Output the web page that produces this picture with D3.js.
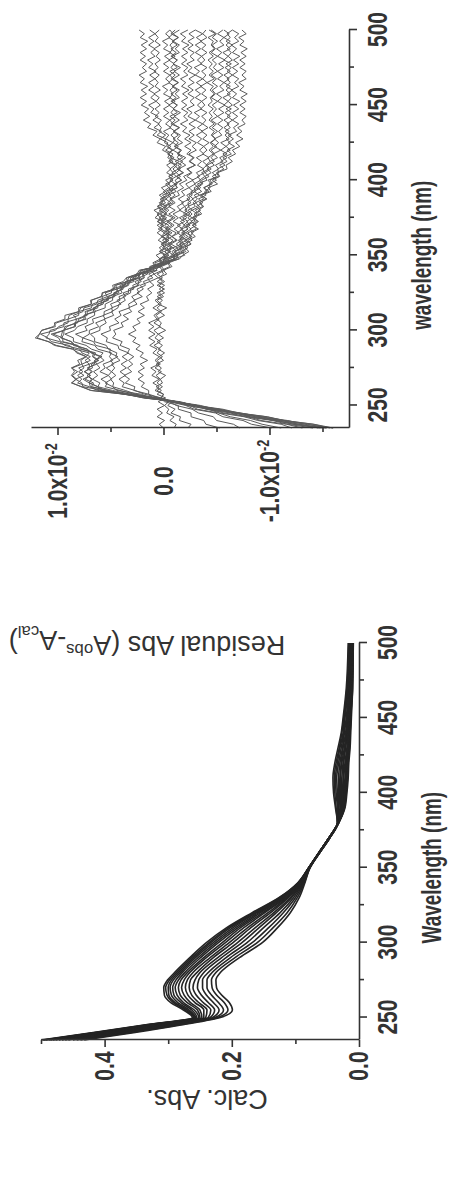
<!DOCTYPE html>
<html>
<head>
<meta charset="utf-8">
<script src="https://cdn.jsdelivr.net/npm/d3@7"></script>
<style>
  html, body { margin: 0; padding: 0; background: #fff; }
  svg { display: block; }
</style>
</head>
<body>
<svg id="fig" width="449" height="1202"></svg>
<script>
// ---------- calculated absorbance spectra (left panel of the figure) ----------
const calcWavelengths = [235,240,245,250,255,260,265,270,275,280,290,300,310,320,330,340,350,360,370,380,390,400,410,420,430,440,450,470,500];
const calc01 = [.500,.418,.338,.262,.276,.296,.306,.307,.301,.290,.266,.240,.208,.168,.126,.096,.079,.063,.047,.032,.022,.019,.017,.016,.014,.013,.012,.010,.009];
const calc02 = [.497,.415,.336,.260,.273,.292,.302,.304,.298,.287,.263,.236,.205,.166,.125,.096,.079,.063,.047,.032,.023,.020,.018,.017,.015,.014,.013,.010,.009];
const calc03 = [.495,.413,.333,.258,.270,.289,.299,.300,.295,.284,.260,.233,.202,.163,.123,.095,.079,.063,.047,.032,.023,.021,.019,.018,.016,.014,.013,.011,.010];
const calc04 = [.492,.410,.331,.257,.267,.285,.295,.297,.292,.281,.257,.229,.198,.161,.122,.095,.079,.063,.047,.032,.024,.022,.020,.019,.016,.015,.014,.011,.010];
const calc05 = [.488,.407,.328,.255,.263,.280,.291,.293,.288,.278,.253,.225,.194,.158,.121,.094,.079,.063,.047,.032,.025,.023,.021,.020,.017,.016,.014,.012,.010];
const calc06 = [.485,.404,.325,.252,.259,.276,.286,.289,.284,.274,.249,.221,.190,.155,.119,.094,.079,.063,.047,.032,.025,.024,.022,.021,.018,.016,.015,.012,.011];
const calc07 = [.481,.400,.322,.250,.254,.270,.281,.284,.280,.270,.244,.215,.186,.151,.117,.093,.078,.063,.047,.033,.026,.025,.024,.022,.019,.017,.016,.013,.011];
const calc08 = [.477,.396,.318,.247,.250,.265,.275,.279,.275,.266,.240,.210,.181,.148,.115,.092,.078,.063,.047,.033,.027,.026,.025,.024,.021,.018,.016,.013,.012];
const calc09 = [.472,.391,.314,.244,.244,.258,.269,.273,.270,.261,.234,.204,.175,.143,.113,.092,.078,.063,.047,.033,.028,.028,.027,.025,.022,.019,.017,.014,.012];
const calc10 = [.467,.386,.310,.241,.239,.252,.263,.267,.265,.255,.229,.198,.170,.139,.111,.091,.078,.063,.047,.033,.029,.029,.029,.027,.023,.020,.018,.015,.013];
const calc11 = [.462,.381,.306,.237,.233,.245,.256,.261,.258,.250,.222,.191,.163,.134,.108,.090,.078,.062,.046,.033,.030,.031,.030,.028,.025,.021,.019,.016,.013];
const calc12 = [.457,.376,.301,.234,.227,.237,.248,.254,.252,.244,.216,.184,.157,.130,.106,.089,.078,.062,.046,.033,.032,.032,.032,.030,.026,.023,.020,.016,.014];
const calc13 = [.450,.370,.296,.230,.220,.229,.240,.246,.246,.237,.209,.176,.150,.124,.103,.088,.078,.062,.046,.033,.033,.034,.035,.032,.028,.024,.022,.017,.015];
const calc14 = [.444,.364,.290,.226,.213,.221,.232,.239,.239,.231,.202,.168,.142,.119,.100,.087,.077,.062,.046,.034,.034,.036,.037,.034,.030,.025,.023,.018,.016];
const calc15 = [.438,.358,.285,.222,.206,.212,.224,.231,.232,.225,.195,.160,.135,.113,.097,.086,.077,.062,.046,.034,.036,.038,.039,.036,.031,.027,.024,.019,.016];
const calc16 = [.432,.352,.280,.218,.199,.204,.216,.224,.225,.218,.188,.152,.128,.108,.094,.085,.077,.062,.046,.034,.037,.040,.041,.038,.033,.028,.025,.020,.017];
const calcSpectra = [calc01,calc02,calc03,calc04,calc05,calc06,calc07,calc08,calc09,calc10,calc11,calc12,calc13,calc14,calc15,calc16];

// ---------- residuals A(obs) - A(cal), in units of 1e-3, sampled every 2.5 nm from 235 to 500 nm ----------
const residualStart = 235, residualStep = 2.5;
const resA = [-15.7,-14.1,-11.3,-9.7,-6.9,-5.2,-2.8,-1.6,1.5,3.7,6.9,7.7, 8.7,8.2,8.6,8.1,8.7,7.9,8.1,7.3,8.0,8.6,10.3,10.8, 12.1,11.7,11.5,10.2,10.3,9.3,9.3,8.0,7.8,6.8,6.9,5.8, 5.8,4.6,4.6,3.4,3.5,2.5,2.3,0.5,-0.1,-1.2,-1.2,-1.9, -1.6,-2.3,-2.0,-2.7,-2.1,-2.6,-2.2,-3.0,-2.7,-3.2,-2.7,-3.4, -3.0,-3.8,-3.4,-4.3,-3.8,-4.5,-4.2,-5.2,-5.0,-5.7,-5.3,-6.0, -5.6,-6.4,-6.0,-6.7,-6.1,-6.6,-6.1,-6.9,-6.6,-7.1,-6.5,-7.0, -6.5,-7.1,-6.6,-7.2,-6.5,-6.9,-6.4,-7.1,-6.7,-7.1,-6.5,-7.0, -6.5,-7.1,-6.6,-7.2,-6.5,-6.9,-6.4,-7.1,-6.7,-7.1,-6.5];
const resB = [-15.3,-12.7,-11.2,-8.7,-7.1,-4.6,-3.2,-1.1,0.9,3.8,5.7,7.6, 7.7,8.3,7.5,8.0,7.5,7.7,6.9,7.3,7.0,8.4,8.9,10.6, 10.9,11.6,10.2,9.9,9.0,9.0,8.0,8.0,6.8,6.7,5.7,5.8, 4.9,4.9,3.7,3.5,2.6,2.6,1.4,1.2,0.0,0.0,-1.0,-0.4, -0.9,-0.4,-1.2,-0.8,-1.2,-0.5,-1.0,-0.5,-1.1,-0.5,-1.1,-0.5, -1.1,-0.7,-1.5,-1.3,-1.9,-1.5,-2.2,-1.9,-2.6,-2.3,-3.0,-2.4, -2.8,-2.4,-3.1,-2.7,-3.1,-2.4,-2.9,-2.4,-3.0,-2.4,-3.0,-2.3, -2.7,-2.2,-2.9,-2.5,-2.9,-2.3,-2.8,-2.3,-2.9,-2.4,-3.0,-2.3, -2.7,-2.2,-2.9,-2.5,-2.9,-2.3,-2.8,-2.3,-2.9,-2.4,-3.0];
const resC = [-16.0,-14.2,-11.4,-9.8,-7.1,-5.6,-3.0,-1.2,1.9,3.5,6.2,7.0, 8.1,7.7,8.1,7.6,8.0,7.0,7.4,6.9,7.7,7.9,9.3,9.8, 11.1,10.8,10.7,9.4,9.4,8.2,8.5,7.6,7.5,6.3,6.2,5.3, 5.5,4.4,4.5,3.4,3.3,2.2,2.2,0.6,-0.1,-1.5,-1.8,-2.4, -2.0,-2.6,-2.3,-3.0,-2.6,-3.3,-2.7,-3.2,-2.8,-3.6,-3.3,-3.8, -3.4,-4.0,-3.6,-4.5,-4.2,-5.1,-4.6,-5.3,-5.1,-6.0,-5.9,-6.5, -6.1,-6.8,-6.5,-7.2,-6.8,-7.5,-6.9,-7.4,-7.0,-7.7,-7.4,-7.8, -7.2,-7.7,-7.2,-7.8,-7.3,-7.9,-7.2,-7.6,-7.1,-7.8,-7.4,-7.8, -7.2,-7.7,-7.2,-7.8,-7.3,-7.9,-7.2,-7.6,-7.1,-7.8,-7.4];
const resD = [-15.0,-12.3,-10.6,-8.1,-6.9,-4.6,-3.2,-1.0,0.9,3.6,5.2,6.8, 6.6,7.4,6.9,7.5,6.7,6.8,6.1,6.6,6.4,7.7,8.1,9.5, 9.5,10.4,9.4,9.3,8.1,8.0,7.2,7.2,6.2,6.2,5.2,5.2, 4.2,4.4,3.6,3.6,2.4,2.2,1.2,1.3,0.3,0.4,-0.5,-0.1, -0.7,-0.1,-0.5,0.1,-0.6,-0.2,-0.5,0.2,-0.3,0.3,-0.3,0.1, -0.7,-0.2,-0.7,-0.4,-1.3,-1.1,-1.7,-1.2,-1.8,-1.4,-2.1,-1.6, -2.1,-1.4,-1.7,-1.1,-1.8,-1.3,-1.6,-1.0,-1.5,-0.9,-1.5,-1.0, -1.6,-0.9,-1.3,-0.8,-1.5,-1.1,-1.5,-0.9,-1.4,-0.9,-1.5,-1.0, -1.6,-0.9,-1.3,-0.8,-1.5,-1.1,-1.5,-0.9,-1.4,-0.9,-1.5];
const resE = [-15.4,-13.6,-10.9,-9.2,-6.7,-5.3,-2.9,-1.3,1.7,3.3,5.9,6.2, 7.0,6.7,7.2,6.8,7.2,6.3,6.5,5.8,6.8,7.2,8.5,8.7, 9.6,9.4,9.4,8.4,8.4,7.3,7.5,6.4,6.6,5.8,5.9,4.7, 4.7,3.9,4.1,3.1,3.1,2.1,2.0,0.8,1.0,0.3,0.7,0.0, 0.4,-0.1,0.5,0.1,0.6,0.1,0.6,0.0,0.8,0.4,0.9,0.1, 0.4,-0.1,0.4,-0.2,0.2,-0.6,-0.2,-0.9,-0.3,-0.7,-0.3,-0.9, -0.4,-0.6,0.1,-0.2,0.6,0.3,1.0,0.6,1.5,1.2,1.9,1.3, 1.8,1.4,2.1,1.6,2.2,1.6,2.1,1.5,2.2,1.8,2.3,1.6, 2.0,1.6,2.2,1.7,2.2,1.6,2.1,1.5,2.2,1.8,2.3];
const resF = [-14.1,-11.7,-10.3,-7.7,-6.3,-4.0,-3.1,-1.3,0.4,2.8,4.1,5.5, 5.3,5.9,5.2,6.0,5.5,5.7,4.8,5.1,4.9,6.2,6.5,7.7, 7.6,8.3,7.2,7.4,6.6,6.7,5.6,5.6,4.8,5.0,4.1,4.2, 3.3,3.3,2.4,2.7,1.9,2.0,0.7,0.5,-0.5,-0.4,-1.4,-1.1, -1.8,-1.5,-2.2,-1.6,-2.1,-1.7,-2.5,-2.2,-2.7,-2.1,-2.7,-2.3, -3.1,-2.7,-3.4,-2.9,-3.5,-3.2,-4.1,-3.9,-4.5,-4.1,-4.8,-4.4, -5.1,-4.7,-5.4,-4.8,-5.2,-4.8,-5.5,-5.2,-5.6,-5.1,-5.6,-5.1, -5.7,-5.2,-5.8,-5.1,-5.5,-5.0,-5.7,-5.3,-5.7,-5.1,-5.6,-5.1, -5.7,-5.2,-5.8,-5.1,-5.5,-5.0,-5.7,-5.3,-5.7,-5.1,-5.6];
const resG = [-12.1,-11.1,-8.9,-7.6,-5.3,-4.2,-2.2,-1.2,1.2,2.1,4.4,4.8, 5.5,4.9,5.2,4.9,5.4,4.7,5.0,4.3,5.1,5.0,6.4,6.6, 7.6,7.0,7.0,6.1,6.4,5.5,5.7,4.8,4.9,4.0,4.4,3.6, 3.8,2.8,2.9,2.1,2.3,1.5,1.6,0.2,0.1,-1.0,-0.7,-1.2, -0.9,-1.7,-1.4,-1.8,-1.3,-1.8,-1.3,-2.0,-1.5,-2.2,-1.5,-2.0, -1.7,-2.5,-2.2,-2.8,-2.4,-3.0,-2.7,-3.4,-3.1,-3.8,-3.2,-3.6, -3.1,-3.8,-3.4,-3.8,-3.2,-3.6,-3.1,-3.7,-3.2,-3.7,-3.0,-3.4, -2.9,-3.6,-3.2,-3.6,-3.0,-3.5,-3.0,-3.6,-3.1,-3.7,-3.0,-3.4, -2.9,-3.6,-3.2,-3.6,-3.0,-3.5,-3.0,-3.6,-3.1,-3.7,-3.0];
const resH = [-10.2,-8.3,-7.5,-5.6,-4.9,-2.9,-2.1,-0.6,0.2,1.8,2.7,3.9, 3.7,4.2,3.6,4.1,3.5,4.0,3.4,3.9,3.3,4.2,4.3,5.4, 5.3,5.9,5.0,5.1,4.2,4.6,4.0,4.2,3.2,3.3,2.7,3.0, 2.3,2.5,1.7,1.9,1.0,1.4,0.6,0.9,0.1,0.3,-0.3,0.3, -0.3,0.2,-0.5,0.1,-0.5,0.3,0.0,0.6,-0.1,0.4,0.0,0.5, -0.2,0.2,-0.5,-0.2,-0.9,-0.4,-0.9,-0.5,-1.2,-0.9,-1.3,-0.6, -1.0,-0.4,-0.9,-0.4,-0.9,-0.2,-0.5,0.0,-0.7,-0.2,-0.6,0.0, -0.5,0.0,-0.6,-0.1,-0.7,0.0,-0.4,0.1,-0.6,-0.2,-0.6,0.0, -0.5,0.0,-0.6,-0.1,-0.7,0.0,-0.4,0.1,-0.6,-0.2,-0.6];
const resI = [-7.2,-6.6,-5.0,-4.7,-3.3,-2.7,-1.2,-0.6,1.0,1.4,2.8,2.7, 3.6,3.2,3.7,3.0,3.4,2.9,3.3,2.8,3.4,3.2,4.1,3.9, 4.8,4.5,4.7,3.8,4.0,3.3,3.8,3.0,3.3,2.5,2.8,2.0, 2.5,1.9,2.2,1.3,1.5,0.9,1.2,0.2,0.3,-0.4,0.0,-0.6, 0.1,-0.4,0.1,-0.5,0.0,-0.4,0.3,-0.2,0.4,-0.2,0.4,-0.3, 0.3,-0.3,0.1,-0.8,-0.5,-1.1,-0.6,-1.2,-0.8,-1.4,-1.0,-1.5, -0.6,-0.9,-0.2,-0.7,-0.1,-0.2,0.6,0.2,0.9,0.4,1.0,0.5, 1.2,0.9,1.4,0.7,1.2,0.8,1.4,0.9,1.4,0.8,1.3,0.7, 1.4,1.0,1.5,0.8,1.2,0.8,1.4,0.9,1.4,0.8,1.3];
const resJ = [-5.3,-4.0,-3.8,-2.6,-2.6,-1.4,-1.4,-0.1,0.3,1.4,1.4,2.1, 1.8,2.4,1.9,2.4,1.8,2.2,1.5,2.2,1.9,2.6,2.2,2.9, 2.6,3.3,2.6,2.9,2.2,2.5,1.8,2.4,1.8,2.2,1.4,1.6, 1.1,1.5,0.9,1.3,0.5,0.9,0.1,0.4,-0.4,-0.1,-1.1,-0.8, -1.3,-0.7,-1.3,-0.8,-1.5,-1.0,-1.6,-0.9,-1.4,-0.9,-1.6,-1.3, -1.9,-1.4,-2.0,-1.7,-2.4,-2.1,-2.8,-2.2,-2.7,-2.2,-3.0,-2.5, -2.9,-2.2,-2.6,-2.0,-2.6,-2.0,-2.5,-1.8,-2.2,-1.6,-2.3,-1.9, -2.3,-1.7,-2.2,-1.7,-2.3,-1.8,-2.4,-1.7,-2.1,-1.6,-2.3,-1.9, -2.3,-1.7,-2.2,-1.7,-2.3,-1.8,-2.4,-1.7,-2.1,-1.6,-2.3];
const resK = [-2.3,-2.6,-1.5,-1.6,-0.7,-1.1,-0.4,-0.8,0.2,0.0,0.8,0.4, 1.0,0.4,1.1,0.7,1.2,0.4,0.8,0.4,1.0,0.6,1.3,0.8, 1.4,0.8,1.4,0.9,1.4,0.6,0.9,0.4,1.0,0.4,0.8,0.2, 0.6,-0.1,0.6,0.1,0.5,-0.3,0.0,-0.8,-0.5,-1.4,-1.3,-2.1, -1.8,-2.6,-2.1,-2.6,-2.3,-3.1,-2.8,-3.3,-2.8,-3.4,-3.0,-3.7, -3.4,-4.1,-3.5,-4.1,-3.8,-4.6,-4.4,-5.0,-4.6,-5.2,-4.9,-5.6, -5.3,-6.0,-5.4,-5.9,-5.4,-6.2,-5.8,-6.2,-5.7,-6.2,-5.7,-6.3, -5.8,-6.4,-5.7,-6.1,-5.6,-6.3,-5.9,-6.3,-5.7,-6.2,-5.7,-6.3, -5.8,-6.4,-5.7,-6.1,-5.6,-6.3,-5.9,-6.3,-5.7,-6.2,-5.7];
const resL = [0.0,0.4,-0.1,0.6,0.1,0.6,-0.1,0.5,-0.2,0.6,0.2,0.7, 0.1,0.3,-0.2,0.5,0.2,0.7,0.0,0.4,-0.1,0.5,0.1,0.6, 0.0,0.5,-0.2,0.4,0.2,0.6,-0.1,0.4,-0.3,0.5,0.1,0.6, -0.1,0.4,-0.1,0.6,0.1,0.6,-0.1,0.2,-0.6,0.0,-0.5,-0.1, -0.8,-0.5,-0.9,-0.3,-0.8,-0.2,-0.8,-0.3,-0.9,-0.1,-0.5,-0.1, -0.9,-0.6,-1.1,-0.7,-1.3,-1.0,-1.7,-1.3,-1.9,-1.3,-1.7,-1.1, -1.8,-1.3,-1.6,-1.0,-1.4,-0.9,-1.4,-0.9,-1.5,-0.7,-1.1,-0.6, -1.3,-0.9,-1.3,-0.7,-1.2,-0.7,-1.3,-0.8,-1.4,-0.7,-1.1,-0.6, -1.3,-0.9,-1.3,-0.7,-1.2,-0.7,-1.3,-0.8,-1.4,-0.7,-1.1];
const resM = [-14.6,-12.9,-10.4,-8.7,-6.5,-5.0,-2.9,-1.3,1.8,3.7,6.8,7.8, 8.6,8.3,8.7,8.4,8.6,7.7,7.8,7.3,8.2,8.5,10.1,10.9, 11.9,11.7,11.5,10.4,10.1,9.0,8.9,8.0,8.0,6.8,6.8,5.9, 5.7,4.7,4.8,3.8,3.5,2.4,2.1,0.7,0.3,-1.0,-1.0,-1.5, -1.3,-1.9,-1.5,-2.0,-1.7,-2.3,-1.9,-2.3,-1.8,-2.5,-2.0,-2.4, -2.3,-2.8,-2.4,-3.0,-2.9,-3.6,-3.4,-3.9,-3.6,-4.3,-4.0,-4.4, -4.2,-4.7,-4.3,-4.7,-4.4,-4.9,-4.5,-4.8,-4.3,-4.8,-4.3,-4.6, -4.3,-4.7,-4.2,-4.6,-4.4,-4.8,-4.4,-4.7,-4.1,-4.8,-4.3,-4.7, -4.3,-4.6,-4.2,-4.7,-4.3,-4.8,-4.5,-4.7,-4.2,-4.9,-4.3];
const resN = [-16.0,-13.3,-11.7,-9.1,-7.3,-4.9,-3.5,-1.2,1.0,3.5,5.3,6.9, 7.0,7.6,6.9,7.4,7.0,7.0,6.2,6.7,6.6,7.8,8.2,9.7, 9.9,10.6,9.4,9.1,8.3,8.2,7.3,7.4,6.4,6.2,5.3,5.3, 4.4,4.4,3.4,3.3,2.4,2.3,1.2,0.8,-0.5,-0.9,-2.0,-1.7, -2.3,-1.9,-2.7,-2.4,-2.8,-2.5,-3.1,-2.6,-3.1,-2.9,-3.5,-3.1, -3.7,-3.3,-4.0,-3.9,-4.4,-4.3,-5.0,-4.6,-5.2,-5.1,-5.8,-5.4, -6.0,-5.6,-6.3,-5.9,-6.3,-5.9,-6.4,-5.8,-6.3,-6.0,-6.5,-6.0, -6.4,-5.9,-6.5,-6.1,-6.4,-6.0,-6.5,-5.9,-6.3,-6.0,-6.5,-6.0, -6.4,-5.9,-6.5,-6.1,-6.4,-6.0,-6.5,-5.9,-6.3,-6.0,-6.5];
const resO = [-13.1,-11.6,-9.2,-8.0,-5.7,-4.3,-2.4,-1.3,1.5,3.1,5.6,6.2, 7.0,6.8,7.2,6.7,7.1,6.5,6.5,6.0,6.8,7.2,8.3,8.7, 9.7,9.6,9.5,8.3,8.3,7.5,7.5,6.6,6.6,5.7,5.6,4.6, 4.6,3.8,3.9,2.8,2.9,2.1,1.8,0.8,0.8,-0.1,-0.1,-0.7, -0.3,-0.7,-0.2,-0.8,-0.2,-0.5,-0.1,-0.5,0.1,-0.3,0.0,-0.6, -0.4,-0.8,-0.4,-1.2,-0.8,-1.3,-1.1,-1.6,-1.2,-1.6,-1.4,-1.8, -1.3,-1.5,-0.9,-1.4,-0.9,-1.1,-0.7,-1.1,-0.6,-0.9,-0.6,-1.1, -0.7,-1.0,-0.5,-1.1,-0.6,-0.9,-0.6,-1.0,-0.5,-0.9,-0.6,-1.1, -0.7,-1.0,-0.5,-1.1,-0.6,-0.9,-0.6,-1.0,-0.5,-0.9,-0.6];
const resQ = [-14.8,-12.2,-10.5,-8.2,-6.8,-4.4,-3.1,-0.8,0.9,3.1,4.8,6.2, 6.0,6.7,6.2,6.6,6.0,6.3,5.6,6.0,5.7,6.8,7.3,8.5, 8.5,9.3,8.4,8.1,7.2,7.2,6.5,6.5,5.5,5.5,4.8,4.8, 3.9,4.1,3.3,3.2,2.2,2.3,1.3,1.0,-0.4,-0.5,-1.3,-1.0, -1.7,-1.2,-1.7,-1.5,-2.0,-1.6,-2.0,-1.6,-2.2,-1.9,-2.2,-2.0, -2.6,-2.2,-2.7,-2.6,-3.3,-2.9,-3.5,-3.2,-3.9,-3.7,-4.1,-3.7, -4.3,-3.7,-4.1,-3.8,-4.3,-3.7,-4.1,-3.6,-4.2,-3.7,-4.0,-3.6, -4.1,-3.5,-3.9,-3.6,-4.1,-3.6,-4.0,-3.5,-4.1,-3.7,-4.0,-3.6, -4.1,-3.5,-3.9,-3.6,-4.1,-3.6,-4.0,-3.5,-4.1,-3.7,-4.0];
const resR = [-11.1,-9.3,-8.2,-6.3,-5.2,-3.2,-2.5,-0.5,0.9,2.6,3.6,4.8, 4.7,5.0,4.5,4.9,4.6,4.9,4.1,4.5,4.4,5.2,5.4,6.5, 6.5,6.9,6.0,6.0,5.4,5.6,4.7,4.9,4.3,4.2,3.6,3.8, 3.1,3.1,2.3,2.4,1.8,1.9,0.9,1.0,0.2,0.4,-0.1,0.4, -0.1,0.2,-0.3,0.2,-0.1,0.5,0.0,0.5,0.3,0.6,0.2,0.6, 0.1,0.3,-0.3,0.0,-0.5,-0.2,-0.9,-0.5,-0.9,-0.6,-1.1,-0.5, -0.8,-0.4,-0.8,-0.3,-0.4,0.3,-0.2,0.4,0.2,0.5,0.2,0.8, 0.4,0.8,0.3,0.7,0.4,0.9,0.3,0.8,0.5,0.8,0.4,0.9, 0.5,0.8,0.3,0.7,0.4,0.9,0.3,0.8,0.5,0.8,0.4];
const resS = [-1.0,-1.2,-0.6,-1.0,-0.3,-0.5,-0.1,-0.5,0.2,0.0,0.6,0.1, 0.6,0.3,0.7,0.2,0.8,0.3,0.6,0.1,0.6,0.3,0.9,0.3, 0.8,0.5,0.9,0.3,0.9,0.4,0.7,0.2,0.6,0.2,0.6,0.0, 0.4,0.0,0.4,-0.1,0.4,0.0,0.2,-0.6,-0.4,-1.1,-0.9,-1.7, -1.5,-1.9,-1.7,-2.3,-1.8,-2.3,-2.1,-2.7,-2.3,-2.7,-2.3,-3.0, -2.8,-3.2,-2.9,-3.6,-3.2,-3.7,-3.6,-4.3,-3.9,-4.5,-4.1,-4.8, -4.5,-4.8,-4.5,-5.0,-4.5,-4.9,-4.6,-5.1,-4.6,-5.0,-4.5,-5.1, -4.7,-5.0,-4.6,-5.1,-4.5,-4.9,-4.6,-5.1,-4.6,-5.0,-4.5,-5.1, -4.7,-5.0,-4.6,-5.1,-4.5,-4.9,-4.6,-5.1,-4.6,-5.0,-4.5];
const residualSeries = [resA,resB,resC,resD,resE,resF,resG,resH,resI,resJ,resK,resL,resM,resN,resO,resQ,resR,resS];

// ---------- axis ticks ----------
const wavelengthTicks = [250,300,350,400,450,500];
const wavelengthMinorTicks = [275,325,375,425,475];
const absTicks = [0.0,0.2,0.4];
const absMinorTicks = [0.1,0.3,0.5];
const residualTicks = [-0.01,0.0,0.01];
const residualMinorTicks = [-0.015,-0.005,0.005];

// ---------- figure ----------
// The figure is laid out landscape (1202 x 449) and turned a quarter turn
// counter-clockwise to fit the portrait page.
const FIG_W = 1202;
const INK = '#333333';
const SANS = "'Liberation Sans',Arial,Helvetica,sans-serif";
const LABEL_SQUEEZE = 0.78;   // condensed face for tick labels
const TITLE_SQUEEZE = 0.70;   // condensed face for the wavelength titles

const svg = d3.select('#fig');
const fig = svg.append('g').attr('transform', `translate(0,${FIG_W}) rotate(-90)`);

const calcX = d3.scaleLinear().domain([235, 500]).range([162, 559]);
const calcY = d3.scaleLinear().domain([0, 0.5]).range([359, 41]);
const resX = d3.scaleLinear().domain([235, 500]).range([774, 1172]);
const resY = d3.scaleLinear().domain([-0.0175, 0.0125]).range([349, 31]);

// squeeze a text element horizontally about its own anchor point
function squeeze(text, s) {
  const x = +text.attr('x') || 0;
  text.attr('transform', `translate(${x},0) scale(${s},1) translate(${-x},0)`);
}

function styleAxis(g) {
  g.attr('font-family', SANS).attr('font-size', 27).attr('font-weight', 'bold');
  g.selectAll('.domain').attr('stroke', INK).attr('stroke-width', 1.6);
  g.selectAll('.tick line').attr('stroke', INK).attr('stroke-width', 1.6);
  g.selectAll('.tick text').attr('fill', INK);
}

function drawAxes(panel, x, y, yTicks, yMinor, yFormat, yLabelOffset) {
  const baseY = y.range()[0];
  const baseX = x.range()[0];
  const bottom = panel.append('g').attr('transform', `translate(0,${baseY})`)
    .call(d3.axisBottom(x).tickValues(wavelengthTicks).tickSize(8).tickSizeOuter(0).tickPadding(11));
  styleAxis(bottom);
  bottom.selectAll('.tick text').each(function () { squeeze(d3.select(this), LABEL_SQUEEZE); });
  const bottomMinor = panel.append('g').attr('transform', `translate(0,${baseY})`)
    .call(d3.axisBottom(x).tickValues(wavelengthMinorTicks).tickSize(5).tickFormat(''));
  styleAxis(bottomMinor);
  bottomMinor.select('.domain').remove();

  const left = panel.append('g').attr('transform', `translate(${baseX},0)`)
    .call(d3.axisLeft(y).tickValues(yTicks).tickSize(7).tickSizeOuter(0));
  styleAxis(left);
  left.selectAll('.tick text').each(function (d) {
    const t = d3.select(this).attr('x', -yLabelOffset).attr('text-anchor', 'middle');
    yFormat(t, d);
    squeeze(t, LABEL_SQUEEZE);
  });
  const leftMinor = panel.append('g').attr('transform', `translate(${baseX},0)`)
    .call(d3.axisLeft(y).tickValues(yMinor).tickSize(4).tickFormat(''));
  styleAxis(leftMinor);
  leftMinor.select('.domain').remove();
}

// ----- calculated spectra panel -----
const calcPanel = fig.append('g');
const calcLine = d3.line()
  .x((d, i) => calcX(calcWavelengths[i]))
  .y(d => calcY(d))
  .curve(d3.curveMonotoneX);
calcPanel.append('g')
  .selectAll('path')
  .data(calcSpectra)
  .join('path')
  .attr('d', calcLine)
  .attr('fill', 'none')
  .attr('stroke', '#242424')
  .attr('stroke-width', 1.6);

drawAxes(calcPanel, calcX, calcY, absTicks, absMinorTicks,
  (t, d) => t.text(d3.format('.1f')(d)), 26);

calcPanel.append('text')
  .attr('x', calcX(350))
  .attr('y', 441)
  .attr('text-anchor', 'middle')
  .attr('font-family', SANS).attr('font-size', 27).attr('font-weight', 'bold')
  .attr('fill', INK)
  .text('Wavelength (nm)')
  .call(t => squeeze(t, TITLE_SQUEEZE));

calcPanel.append('text')
  .attr('transform', 'translate(112,207) rotate(-90)')
  .attr('text-anchor', 'middle')
  .attr('font-family', SANS).attr('font-size', 27)
  .attr('fill', INK)
  .text('Calc. Abs.');

// ----- residual panel -----
const resPanel = fig.append('g');
const resLine = d3.line()
  .x((d, i) => resX(residualStart + residualStep * i))
  .y(d => resY(d * 1e-3))
  .curve(d3.curveLinear);
resPanel.append('g')
  .selectAll('path')
  .data(residualSeries)
  .join('path')
  .attr('d', resLine)
  .attr('fill', 'none')
  .attr('stroke', '#5a5a5a')
  .attr('stroke-width', 1.0)
  .attr('stroke-linejoin', 'round');

drawAxes(resPanel, resX, resY, residualTicks, residualMinorTicks, (t, d) => {
  t.text(null);
  if (d === 0) { t.text('0.0'); return; }
  t.append('tspan').text((d < 0 ? '-' : '') + '1.0x10');
  t.append('tspan').attr('dy', '-0.6em').attr('font-size', '0.6em').text('-2');
}, 53);

resPanel.append('text')
  .attr('x', resX(350))
  .attr('y', 431)
  .attr('text-anchor', 'middle')
  .attr('font-family', SANS).attr('font-size', 27).attr('font-weight', 'bold')
  .attr('fill', INK)
  .text('wavelength (nm)')
  .call(t => squeeze(t, TITLE_SQUEEZE));

const resTitle = resPanel.append('text')
  .attr('transform', 'translate(566,147) rotate(-90)')
  .attr('text-anchor', 'middle')
  .attr('font-family', SANS).attr('font-size', 27)
  .attr('fill', INK);
resTitle.append('tspan').text('Residual Abs (A');
resTitle.append('tspan').attr('dy', '-0.45em').attr('font-size', '0.62em').text('obs');
resTitle.append('tspan').attr('dy', '0.45em').text('-A');
resTitle.append('tspan').attr('dy', '0.3em').attr('font-size', '0.62em').text('cal');
resTitle.append('tspan').attr('dy', '-0.3em').text(')');
</script>
</body>
</html>
